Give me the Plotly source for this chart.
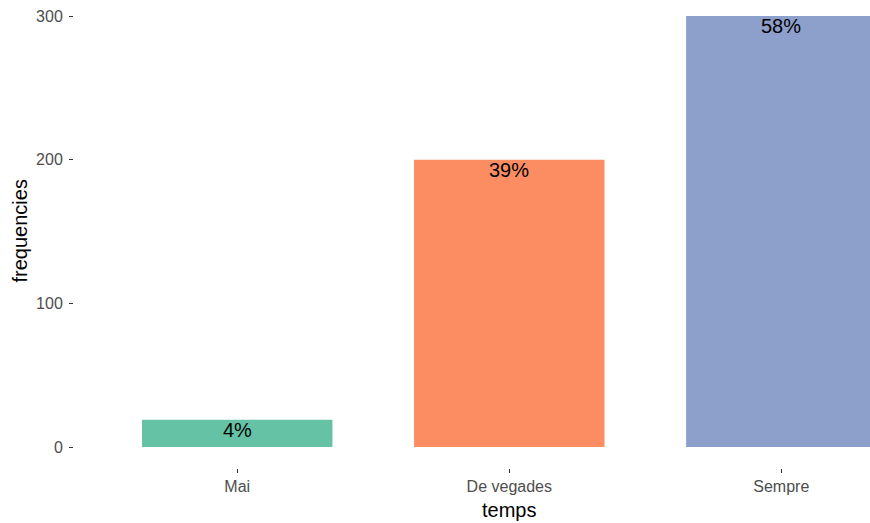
import plotly.graph_objects as go

categories = ["Mai", "De vegades", "Sempre"]
values = [19, 200, 300]
labels = ["4%", "39%", "58%"]
colors = ["#66C2A5", "#FC8D62", "#8DA0CB"]
y_ticks = [0, 100, 200, 300]

FONT = "Liberation Sans, Arial, sans-serif"

fig = go.Figure()
fig.add_trace(go.Bar(x=categories, y=values, marker=dict(color=colors, line=dict(width=0)),
                     width=0.7, showlegend=False, hoverinfo="x+y"))
for c, v, t in zip(categories, values, labels):
    fig.add_annotation(x=c, y=v, text=t, showarrow=False, yanchor="top", yshift=3,
                       font=dict(size=20, color="black", family=FONT))

# axis titles (x title centred on the full, partly cropped panel)
fig.add_annotation(x=categories[1], xref="x", y=-0.0897, yref="paper", text="temps",
                   showarrow=False, yanchor="middle",
                   font=dict(size=20, color="black", family=FONT))
fig.add_annotation(x=-0.0666, xref="paper", y=0.5075, yref="paper", text="frequencies",
                   showarrow=False, textangle=-90, xanchor="center", yanchor="middle",
                   font=dict(size=20, color="black", family=FONT))

fig.update_layout(
    width=870, height=523,
    margin=dict(l=74, r=0, t=0, b=55),
    plot_bgcolor="white", paper_bgcolor="white",
    font=dict(family=FONT),
    xaxis=dict(range=[-0.6, 2.326], showgrid=False, zeroline=False, showline=False,
               ticks="outside", ticklen=4, tickcolor="#333333", tickwidth=1,
               tickfont=dict(size=16, color="#4D4D4D"), ticklabeloverflow="allow"),
    yaxis=dict(range=[-14.62, 311.14], tickvals=y_ticks, showgrid=False, zeroline=False, showline=False,
               ticks="outside", ticklen=4, tickcolor="#333333", tickwidth=1,
               ticklabelstandoff=3, ticklabeloverflow="allow",
               tickfont=dict(size=16, color="#4D4D4D")),
)
fig.write_html(
    "out.html",
    config={"displayModeBar": False},
    post_script="document.body.style.margin='0';document.body.style.overflow='hidden';"
                "document.documentElement.style.overflow='hidden';",
)
